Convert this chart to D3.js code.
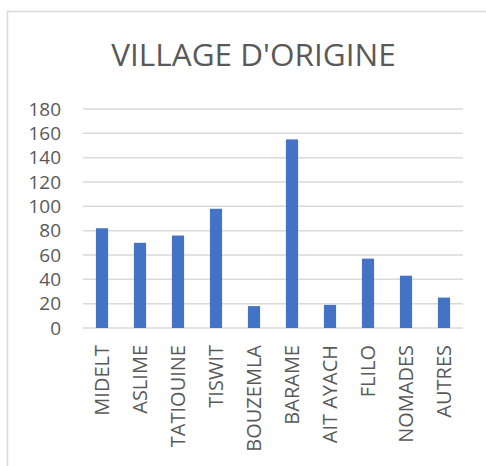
<!DOCTYPE html>
<html><head><meta charset="utf-8">
<script src="https://cdn.jsdelivr.net/npm/d3@7"></script>
<style>html,body{margin:0;padding:0;background:#fff;}svg{display:block;}</style>
</head><body>
<script>
const categories = ["MIDELT","ASLIME","TATIOUINE","TISWIT","BOUZEMLA","BARAME","AIT AYACH","FLILO","NOMADES","AUTRES"];
const values = [82,70,76,98,18,155,19,57,43,25];
const yTicks = [0,20,40,60,80,100,120,140,160,180];
const title = "VILLAGE D'ORIGINE";

const W = 486, H = 466;
const svg = d3.select("body").append("svg").attr("width", W).attr("height", H);
svg.append("rect").attr("width", W).attr("height", H).attr("fill", "#fff");
// chart border (cropped at right/bottom)
svg.append("path").attr("d", "M7.5,470 V11.5 H490").attr("fill","none").attr("stroke","#d9d9d9").attr("stroke-width",1.5);

const x = d3.scaleBand().domain(categories).range([83, 463]).paddingInner(0.68).paddingOuter(0.34);
const y = d3.scaleLinear().domain([0, 180]).range([328, 109]);

svg.append("text").attr("x", 253.5).attr("y", 66).attr("text-anchor","middle")
  .attr("font-family","'Open Sans'").attr("font-size", 31.5).attr("fill","#595959").text(title);

const grid = svg.append("g");
grid.selectAll("line").data(yTicks).join("line")
  .attr("x1", 83).attr("x2", 463).attr("y1", d => y(d)).attr("y2", d => y(d))
  .attr("stroke", "#d9d9d9").attr("stroke-width", 1.5);

const yAxis = d3.axisLeft(y).tickValues(yTicks).tickSize(0).tickPadding(0);
const ya = svg.append("g").attr("transform","translate(61,0)").call(yAxis);
ya.select(".domain").remove();
ya.selectAll("text").attr("font-family","'Open Sans'").attr("font-size",19).attr("fill","#595959");

svg.append("g").selectAll("rect").data(values).join("rect")
  .attr("x", (d,i) => x(categories[i])).attr("width", x.bandwidth())
  .attr("y", d => y(d)).attr("height", d => y(0) - y(d))
  .attr("fill", "#4472C4");

const xAxis = d3.axisBottom(x).tickSize(0).tickPadding(0);
const xa = svg.append("g").attr("transform","translate(0,345)").call(xAxis);
xa.select(".domain").remove();
xa.selectAll("text").attr("font-family","'Open Sans'").attr("font-size",20).attr("fill","#595959")
  .attr("text-anchor","end").attr("transform","rotate(-90)").attr("x",0).attr("y",0).attr("dy","0.35em");
</script>
</body></html>
